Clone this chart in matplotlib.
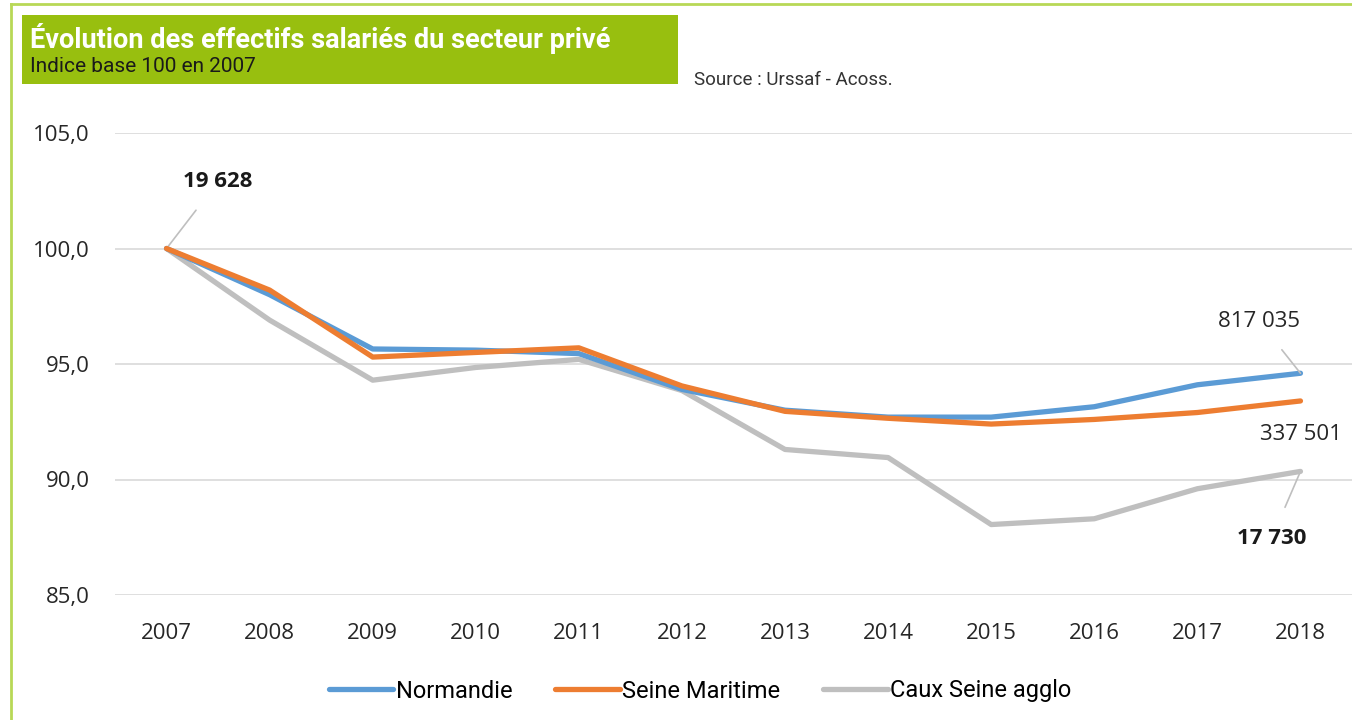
import matplotlib
matplotlib.use("Agg")
import matplotlib.pyplot as plt
from matplotlib.patches import Rectangle
from matplotlib.lines import Line2D

years = ["2007", "2008", "2009", "2010", "2011", "2012", "2013", "2014", "2015", "2016", "2017", "2018"]
normandie = [100.0, 98.0, 95.65, 95.6, 95.45, 93.9, 93.0, 92.7, 92.7, 93.15, 94.1, 94.6]
seine_maritime = [100.0, 98.2, 95.3, 95.5, 95.7, 94.05, 92.95, 92.65, 92.4, 92.6, 92.9, 93.4]
caux_seine = [100.0, 96.9, 94.3, 94.85, 95.2, 93.85, 91.3, 90.95, 88.05, 88.3, 89.6, 90.35]
series_names = ["Normandie", "Seine Maritime", "Caux Seine agglo"]
yticks = [85.0, 90.0, 95.0, 100.0, 105.0]
ytick_labels = ["85,0", "90,0", "95,0", "100,0", "105,0"]

W, H = 1352, 720
fig = plt.figure(figsize=(W / 100, H / 100), dpi=100)
plt.rcParams['font.family'] = ['Open Sans', 'DejaVu Sans']

def fx(px):
    return px / W

def fy(py):
    return 1 - py / H

# light green border (left and top)
fig.add_artist(Line2D([fx(11), fx(11)], [0, fy(4)], color="#B8D856", lw=2, transform=fig.transFigure))
fig.add_artist(Line2D([fx(11), 1], [fy(4), fy(4)], color="#B8D856", lw=2, transform=fig.transFigure))

# title box
fig.add_artist(Rectangle((fx(22), fy(84)), fx(678) - fx(22), fy(15) - fy(84),
                         facecolor="#98BF0F", edgecolor="none", transform=fig.transFigure))
fig.text(fx(30), fy(39), "Évolution des effectifs salariés du secteur privé", color="white",
         fontsize=19.5, fontweight="bold", family=["Roboto", "DejaVu Sans"], va="center", ha="left")
fig.text(fx(30), fy(67), "Indice base 100 en 2007", color="#1a1a1a",
         fontsize=15, family=["Roboto", "DejaVu Sans"], va="center", ha="left")
fig.text(fx(694), fy(80), "Source : Urssaf - Acoss.", color="#333333",
         fontsize=13.5, family=["Roboto", "DejaVu Sans"], va="center", ha="left")

ax = fig.add_axes([fx(115), fy(595), 1 - fx(115), fy(133) - fy(595)])
x = list(range(len(years)))
colors = ["#5B9BD5", "#ED7D31", "#BFBFBF"]
data = [normandie, seine_maritime, caux_seine]
zorders = [3, 4, 2]
for vals, c, name, z in zip(data, colors, series_names, zorders):
    ax.plot(x, vals, color=c, lw=3.8, label=name, zorder=z, solid_capstyle="round",
            solid_joinstyle="round")

ax.set_xlim(-0.5, 11.5)
ax.set_ylim(85, 105)
ax.set_yticks(yticks)
ax.set_yticklabels(ytick_labels)
ax.set_xticks(x)
ax.set_xticklabels(years)
ax.grid(axis="y", color="#D9D9D9", lw=1.2)
ax.set_axisbelow(True)
for s in ax.spines.values():
    s.set_visible(False)
ax.tick_params(axis="both", length=0, labelsize=16, colors="#262626")
ax.tick_params(axis="y", pad=18)
ax.tick_params(axis="x", pad=20)

# annotations
lc = "#BFBFBF"
ax.annotate("19 628", xy=(0, normandie[0]), xytext=(0.5, 102.9), ha="center", va="center",
            fontsize=16, fontweight="bold", color="#1a1a1a",
            arrowprops=dict(arrowstyle="-", color=lc, lw=1.2, shrinkA=14, shrinkB=0))
ax.annotate("817 035", xy=(11, normandie[-1]), xytext=(10.6, 96.85), ha="center", va="center",
            fontsize=16, color="#262626",
            arrowprops=dict(arrowstyle="-", color=lc, lw=1.2, shrinkA=14, shrinkB=0))
ax.text(11.0, 91.95, "337 501", ha="center", va="center", fontsize=16, color="#262626")
ax.annotate("17 730", xy=(11, caux_seine[-1]), xytext=(10.72, 87.45), ha="center", va="center",
            fontsize=16, fontweight="bold", color="#1a1a1a",
            arrowprops=dict(arrowstyle="-", color=lc, lw=1.2, shrinkA=14, shrinkB=0))

handles, labels = ax.get_legend_handles_labels()
fig.legend(handles, labels, loc="center",
           bbox_to_anchor=(fx(700), fy(691)), ncol=3, frameon=False,
           handlelength=2.75, handletextpad=0.1, columnspacing=1.8,
           prop={"family": ["Roboto", "DejaVu Sans"], "size": 17})

fig.savefig("out.png", dpi=100)
